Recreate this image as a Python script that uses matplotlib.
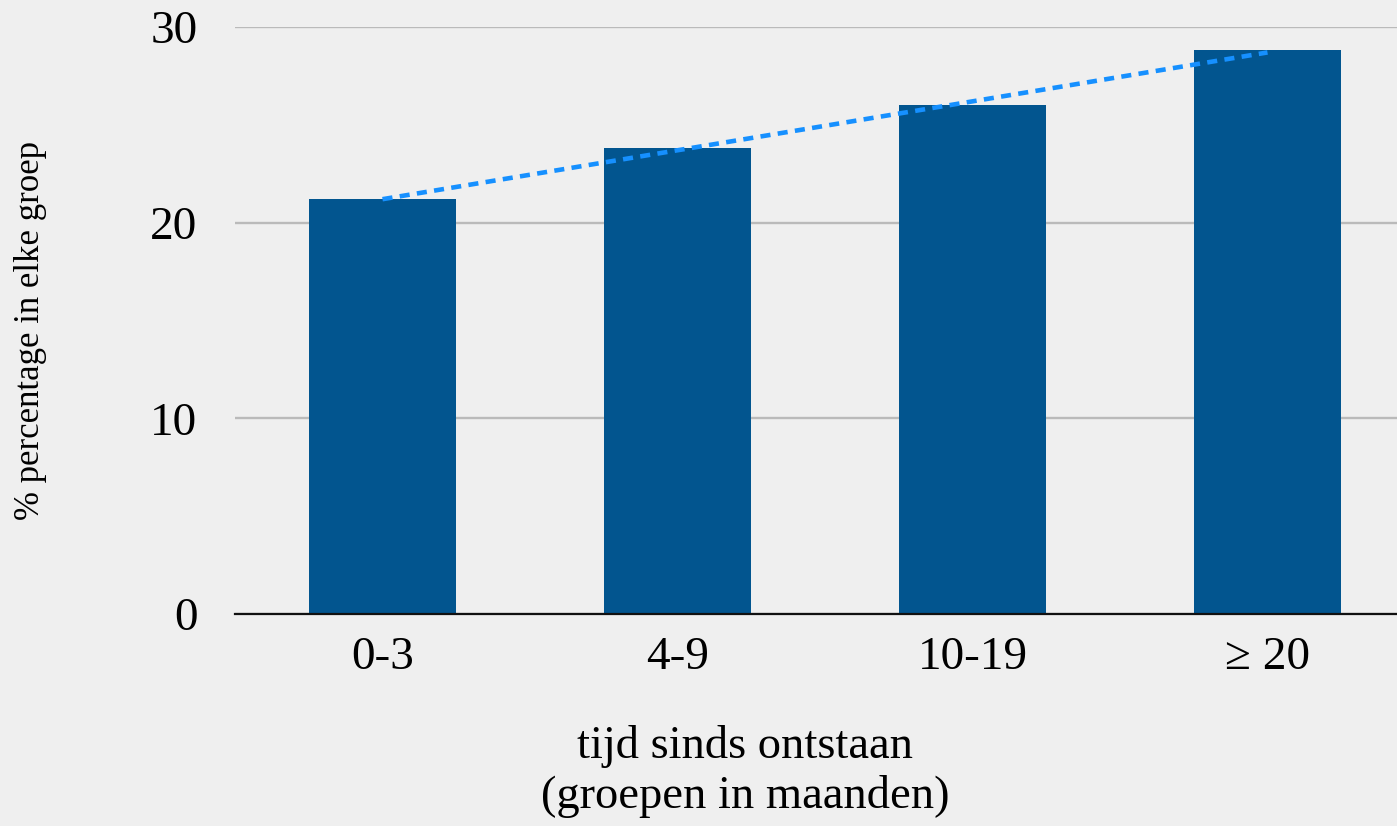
import numpy as np
import matplotlib
matplotlib.use("Agg")
import matplotlib.pyplot as plt

categories = ["0-3", "4-9", "10-19", "≥ 20"]
values = [21.2, 23.8, 26.0, 28.8]
y_ticks = [0, 10, 20, 30]

plt.rcParams["font.family"] = ["Liberation Serif", "DejaVu Serif"]

W, H = 1397, 826
fig = plt.figure(figsize=(W / 100, H / 100), dpi=100)
fig.patch.set_facecolor("#efefef")

# axes spans four category slots; the last slot runs past the right edge
left_px, slot_px = 235, 295
ax = fig.add_axes([left_px / W, (H - 614) / H, 4 * slot_px / W, (614 - 27) / H])
ax.set_facecolor("none")

x = np.arange(len(categories))
ax.bar(x, values, width=0.5, color="#02558f", zorder=3)

# linear trend through the bar values
coef = np.polyfit(x, values, 1)
trend = np.polyval(coef, x)
ax.plot([x[0], x[-1]], [trend[0], trend[-1]], linestyle=(0, (2.2, 1.6)),
        color="#1690ff", linewidth=3.3, zorder=4)

ax.set_xlim(-0.5, 3.5)
ax.set_ylim(0, 30)
ax.set_yticks(y_ticks)
ax.set_yticklabels([str(t) for t in y_ticks], fontsize=34)
ax.set_xticks(x)
ax.set_xticklabels(categories, fontsize=34)
ax.tick_params(axis="y", length=0, pad=27)
ax.tick_params(axis="x", length=0, pad=16)

ax.grid(axis="y", color="#bababa", linewidth=1.7, zorder=0)
for s in ["top", "right", "left"]:
    ax.spines[s].set_visible(False)
ax.spines["bottom"].set_color("#111111")
ax.spines["bottom"].set_linewidth(1.6)
ax.spines["bottom"].set_zorder(5)

fig.text(31 / W, 1 - 330 / H, "% percentage in elke groep", rotation=90,
         ha="center", va="center", fontsize=25)
fig.text(745 / W, 1 - 747 / H, "tijd sinds ontstaan", ha="center", va="center", fontsize=33.5)
fig.text(745 / W, 1 - 797 / H, "(groepen in maanden)", ha="center", va="center", fontsize=33.5)

fig.savefig("out.png", dpi=100, facecolor=fig.get_facecolor())
